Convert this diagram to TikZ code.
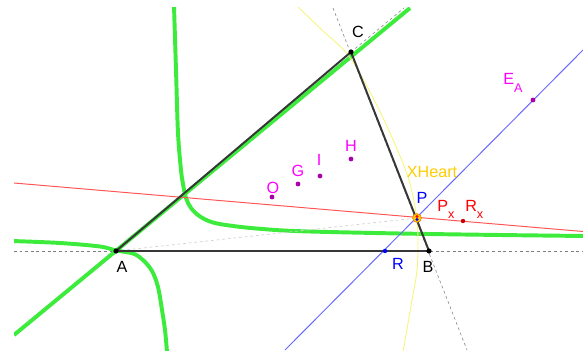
\documentclass[tikz,border=0pt]{standalone}
\usepackage{fontspec}
\setmainfont{Liberation Sans}
\usepackage{xcolor}
\usetikzlibrary{positioning}

\definecolor{ggGreen}{RGB}{60,235,60}
\definecolor{ggRed}{RGB}{255,85,85}
\definecolor{ggDarkRed}{RGB}{200,0,0}
\definecolor{ggBlue}{RGB}{105,105,255}
\definecolor{ggMagenta}{RGB}{255,0,255}
\definecolor{ggPurple}{RGB}{170,0,170}
\definecolor{ggYellow}{RGB}{245,245,120}
\definecolor{ggGold}{RGB}{255,205,0}
\definecolor{ggDark}{RGB}{55,55,55}

\newcommand{\lowsub}[1]{\raisebox{-5pt}{\fontsize{9}{10}\selectfont #1}}

\pgfdeclarelayer{bg}
\pgfsetlayers{bg,main}

\begin{document}
\begin{tikzpicture}[
    x=0.025cm, y=-0.025cm,
    vertex/.style={circle, fill=black, inner sep=0pt, minimum size=1.3mm},
    center-dot/.style={circle, fill=ggPurple, inner sep=0pt, minimum size=1.2mm},
    heart-ring/.style={circle, draw=orange!90!black, fill=ggGold, thin, inner sep=0pt, minimum size=2.2mm},
    side/.style={draw=ggDark, line width=1.4pt},
    ext/.style={draw=gray, line width=0.4pt, dash pattern=on 2pt off 2pt},
    cubic/.style={draw=ggGreen, line width=2.8pt},
    red-line/.style={draw=ggRed, line width=0.7pt},
    blue-line/.style={draw=ggBlue, line width=0.7pt},
    locus/.style={draw=ggYellow, line width=0.6pt},
    faint/.style={draw=gray!35, line width=0.5pt, dash pattern=on 2pt off 2pt},
    lbl/.style={font=\fontsize{11.5}{13}\selectfont, inner sep=0pt}
]
    \useasboundingbox (0,0) rectangle (583,354);

    % points
    \node[vertex] (A) at (116,251) {};
    \node[vertex] (B) at (429,251) {};
    \node[vertex] (C) at (351,52) {};
    \node[vertex, fill=blue, minimum size=1.1mm] (R) at (385,251) {};
    \node[center-dot] (O) at (272,197) {};
    \node[center-dot] (G) at (298,184) {};
    \node[center-dot] (I) at (320,176) {};
    \node[center-dot] (H) at (351,159) {};
    \node[center-dot] (EA) at (533,100) {};
    \node[vertex, fill=ggDarkRed, minimum size=1.1mm] (Rx) at (463,221) {};
    \node[heart-ring] (P) at (417,218) {};
    \node[vertex, fill=red, minimum size=0.8mm] (Pred) at (417,216.5) {};
    \node[vertex, fill=blue, minimum size=0.8mm] (Pblue) at (417,219.5) {};

    % free ends at the frame
    \coordinate (redW) at (14,183);
    \coordinate (redE) at (583,231.5);
    \coordinate (blueSW) at (285,350);
    \coordinate (blueNE) at (583,50);
    \coordinate (abW) at (14,251);
    \coordinate (abE) at (583,251);
    \coordinate (bcN) at (333,8);
    \coordinate (bcS) at (467,350);
    \coordinate (acNE) at (404,8);
    \coordinate (gSW) at (14,335);
    \coordinate (gNE) at (410,8);

    \begin{pgfonlayer}{bg}
    \clip (14,8) rectangle (583,350);

    % cubic: line part and hyperbola part
    \draw[cubic] (gSW) -- (gNE);
    \draw[cubic] plot[smooth, tension=0.55] coordinates {
        (174,6) (176,70) (178,133) (181,170) (183,184) (186,198) (191,208)
        (200,216.5) (213,222.5) (233,226) (260,228.8) (300,231.2)
        (400,233.5) (500,235) (585,236)};
    \draw[cubic] plot[smooth, tension=0.55] coordinates {
        (12,241) (60,243) (100,246.5) (116,250.5) (133,253.5) (143,260)
        (152,271) (158,287) (162,310) (165,330) (167,352)};

    % extended sides
    \draw[ext] (abW) -- (abE);
    \draw[ext] (bcN) -- (bcS);
    \draw[ext] (C.center) -- (acNE);

    % locus of XHeart
    \draw[locus] plot[smooth, tension=0.6] coordinates {
        (297,6) (322,30) (348,55) (370,92) (390,133) (408,177)
        (416,213) (418,240) (417,270) (412,300) (403,352)};

    \draw[red-line] (redW) -- (redE);
    \draw[blue-line] (blueSW) -- (blueNE);
    \draw[faint] (A.center) -- (P.center);

    % triangle
    \draw[side] (A.center) -- (B.center) -- (C.center) -- cycle;
    \end{pgfonlayer}

    % labels
    \node[lbl] (lblA) at (122,267) {A};
    \node[lbl] (lblB) at (428,267) {B};
    \node[lbl] (lblC) at (358,32) {C};
    \node[lbl, text=blue] (lblR) at (398,264) {R};
    \node[lbl, text=blue] (lblP) at (422,198) {P};
    \node[lbl, text=red, anchor=base west] (lblPx) at (437,211) {P\lowsub{x}};
    \node[lbl, text=red, anchor=base west] (lblRx) at (465,211) {R\lowsub{x}};
    \node[lbl, text=ggMagenta, anchor=base west] (lblEA) at (503,85) {E\lowsub{A}};
    \node[lbl, text=ggMagenta] (lblH) at (351,146) {H};
    \node[lbl, text=ggMagenta] (lblI) at (319,160) {I};
    \node[lbl, text=ggMagenta] (lblG) at (298,171) {G};
    \node[lbl, text=ggMagenta] (lblO) at (273,188) {O};
    \node[lbl, text=ggGold] (lblXH) at (432,172) {XHeart};

\end{tikzpicture}
\end{document}
